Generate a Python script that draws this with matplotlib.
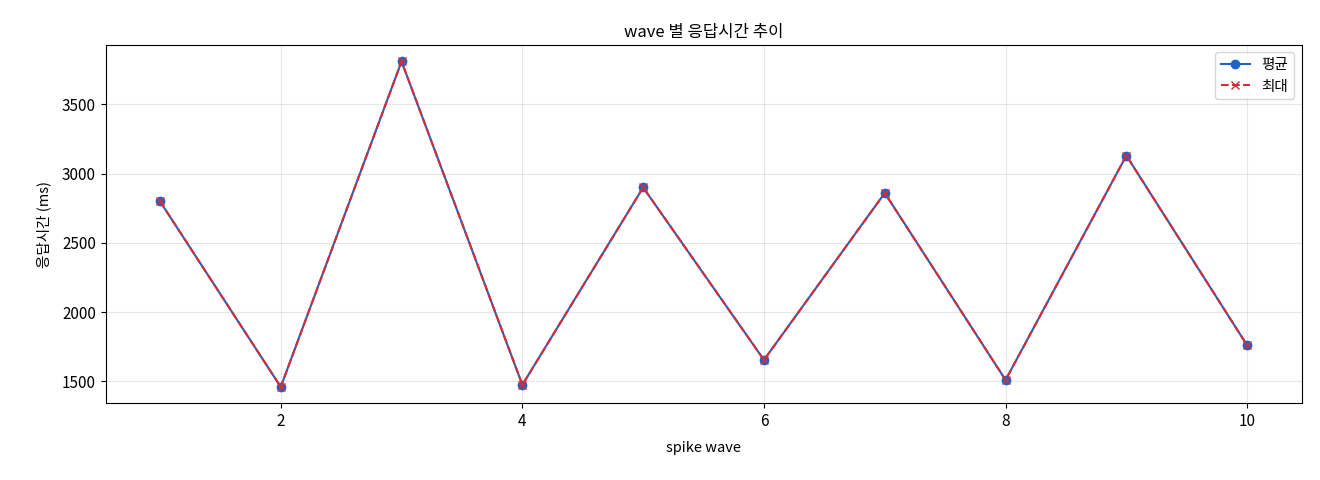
import matplotlib
matplotlib.use("Agg")
import matplotlib.pyplot as plt

plt.rcParams["font.family"] = ["Noto Sans CJK KR", "DejaVu Sans"]
plt.rcParams["axes.unicode_minus"] = False

waves = [1, 2, 3, 4, 5, 6, 7, 8, 9, 10]
avg_ms = [2800, 1460, 3810, 1475, 2900, 1655, 2860, 1510, 3130, 1760]
max_ms = [2800, 1460, 3810, 1475, 2900, 1655, 2860, 1510, 3130, 1760]

fig, ax = plt.subplots(figsize=(13.2, 4.8), dpi=100)
ax.plot(waves, avg_ms, marker="o", color="#1f63c6", linewidth=1.5, markersize=6, label="평균")
ax.plot(waves, max_ms, marker="x", linestyle="--", color="#d62d35", linewidth=1.5, markersize=6, label="최대")

ax.set_title("wave 별 응답시간 추이", fontsize=12)
ax.set_xlabel("spike wave", fontsize=10.5, labelpad=8)
ax.set_ylabel("응답시간 (ms)", fontsize=10.5, labelpad=8)
ax.tick_params(labelsize=11)
ax.grid(True, alpha=0.3)
ax.legend(loc="upper right", fontsize=10.5)

fig.subplots_adjust(left=0.08, right=0.986, top=0.906, bottom=0.16)
fig.savefig("out.png", dpi=100, facecolor="white")
